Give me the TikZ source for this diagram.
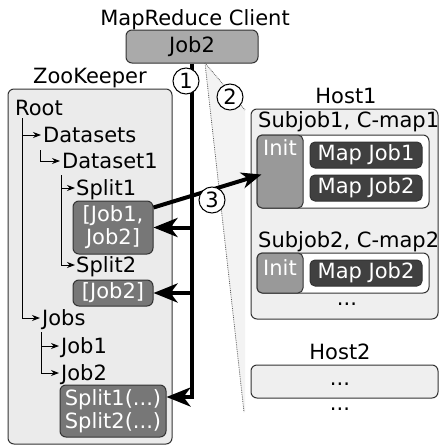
\documentclass[tikz,border=0pt]{standalone}
\usepackage{fontspec}
\setmainfont{DejaVu Sans}
\usetikzlibrary{arrows.meta}
\definecolor{clientgray}{HTML}{AAAAAA}
\definecolor{zkgray}{HTML}{EBEBEB}
\definecolor{znode}{HTML}{777777}
\definecolor{hostgray}{HTML}{EFEFEF}
\definecolor{initgray}{HTML}{999999}
\definecolor{mapdark}{HTML}{404040}
\definecolor{fangray}{HTML}{F3F3F3}
\definecolor{edge}{HTML}{333333}
\tikzset{
  txt/.style={inner sep=0pt, font=\fontsize{21}{23}\selectfont},
  panel/.style={draw=edge, line width=1pt, rounded corners=6pt, inner sep=0pt},
  znodebox/.style={panel, fill=znode, text=white, align=center,
    font=\fontsize{21}{23}\selectfont},
  mapbox/.style={panel, fill=mapdark, text=white, minimum width=112pt,
    minimum height=26pt, rounded corners=5pt, font=\fontsize{21}{23}\selectfont},
  initbox/.style={panel, fill=initgray, minimum width=46pt, rounded corners=5pt},
  treeline/.style={line width=1pt, -{Stealth[length=8pt,width=6pt]}},
  bigarrow/.style={line width=4pt, -{Stealth[length=24pt,width=19pt,inset=7pt]}},
  steparrow/.style={line width=4pt, -{Stealth[length=20pt,width=16pt,inset=6pt]}},
  stepmark/.style={circle, draw, line width=1pt, fill=white, minimum size=26pt,
    inner sep=0pt, font=\fontsize{21}{23}\selectfont},
  fanline/.style={draw=edge!80, line width=0.8pt, densely dotted},
}
\begin{document}
\begin{tikzpicture}[x=1pt, y=-1pt]
\useasboundingbox (0,0) rectangle (439,447);

% client
\node[txt, anchor=base] (clientlbl) at (195,25) {MapReduce Client};
\node[panel, fill=clientgray, minimum width=132pt, minimum height=33pt,
      font=\fontsize{21}{23}\selectfont] (client) at (192,46.5) {Job2};

% fan towards the hosts
\coordinate (fantop) at (205,63);
\coordinate (fanright) at (245,110);
\coordinate (fanbottom) at (244,412);
\fill[fangray] (fantop) -- (fanright) -- (245,412) -- (fanbottom) -- cycle;
\draw[fanline] (fantop) -- (fanbottom);
\draw[fanline] (fantop) -- (fanright);

% ZooKeeper tree
\node[txt, anchor=base] (zklbl) at (90,83) {ZooKeeper};
\node[panel, fill=zkgray, minimum width=164pt, minimum height=355pt] (zk) at (90,266.5) {};
\node[txt, anchor=base west] (root) at (15,115) {Root};
\node[txt, anchor=base west] (datasets) at (43,142) {Datasets};
\node[txt, anchor=base west] (dataset1) at (62,168) {Dataset1};
\node[txt, anchor=base west] (split1) at (76,195) {Split1};
\node[znodebox, minimum width=80pt, minimum height=53pt] (jobs12) at (113,227.5) {[Job1,\\Job2]};
\node[txt, anchor=base west] (split2) at (76,272) {Split2};
\node[znodebox, minimum width=80pt, minimum height=26pt] (job2z) at (113,293) {[Job2]};
\node[txt, anchor=base west] (jobs) at (42,325) {Jobs};
\node[txt, anchor=base west] (job1) at (61,353) {Job1};
\node[txt, anchor=base west] (job2) at (61,380) {Job2};
\node[znodebox, minimum width=106pt, minimum height=52pt] (splits) at (113,411) {Split1(...)\\Split2(...)};

\coordinate (rootstem) at (22,118);
\draw[treeline] (rootstem) |- ([xshift=-2pt,yshift=7pt]datasets.base west);
\draw[treeline] (rootstem) |- ([xshift=-2pt,yshift=7pt]jobs.base west);
\draw[treeline] (40,150) |- ([xshift=-2pt,yshift=7pt]dataset1.base west);
\coordinate (splitstem) at (61,175);
\draw[treeline] (splitstem) |- ([xshift=-1pt,yshift=7pt]split1.base west);
\draw[treeline] (splitstem) |- ([xshift=-1pt,yshift=7pt]split2.base west);
\coordinate (jobstem) at (41,332);
\draw[treeline] (jobstem) |- ([xshift=-2pt,yshift=7pt]job1.base west);
\draw[treeline] (jobstem) |- ([xshift=-2pt,yshift=7pt]job2.base west);

% hosts
\node[txt, anchor=base] (host1lbl) at (346,103) {Host1};
\node[panel, fill=hostgray, minimum width=187pt, minimum height=210pt] (host1) at (344.5,214) {};
\node[txt, anchor=base west] (sub1lbl) at (258,127) {Subjob1, C-map1};
\node[panel, fill=white, minimum width=172pt, minimum height=73pt] (sub1) at (343,171.5) {};
\node[initbox, minimum height=73pt] (init1) at (280,171.5) {};
\node[txt, text=white, anchor=base] at (280,155) {Init};
\node[mapbox] (map11) at (366,155) {Map Job1};
\node[mapbox] (map12) at (366,188) {Map Job2};
\node[txt, anchor=base west] (sub2lbl) at (258,247) {Subjob2, C-map2};
\node[panel, fill=white, minimum width=172pt, minimum height=40pt] (sub2) at (343,273) {};
\node[initbox, minimum height=40pt] (init2) at (280,273) {};
\node[txt, text=white, anchor=base] at (280,275) {Init};
\node[mapbox] (map22) at (366,273) {Map Job2};
\node[txt, anchor=base] (more1) at (347,305) {...};

\node[txt, anchor=base] (host2lbl) at (340,359) {Host2};
\node[panel, fill=hostgray, minimum width=187pt, minimum height=33pt] (host2) at (344.5,381.5) {};
\node[txt, anchor=base] (more2) at (340,385) {...};
\node[txt, anchor=base] (more3) at (340,410) {...};

% client writes the job into ZooKeeper
\coordinate (bend) at (192,397);
\draw[bigarrow] (client.south) -- (bend) -- (bend -| splits.east);
\draw[bigarrow] (jobs12.east -| client.south) -- (jobs12.east);
\draw[bigarrow] (job2z.east -| client.south) -- (job2z.east);

% init reads the splits
\draw[steparrow] ([yshift=-7pt]jobs12.north east) -- ([xshift=5pt,yshift=-3pt]init1.west);

% step markers
\node[stepmark] (s1) at (186,81) {1};
\node[stepmark] (s2) at (230,97) {2};
\node[stepmark] (s3) at (212,200) {3};
\end{tikzpicture}
\end{document}
